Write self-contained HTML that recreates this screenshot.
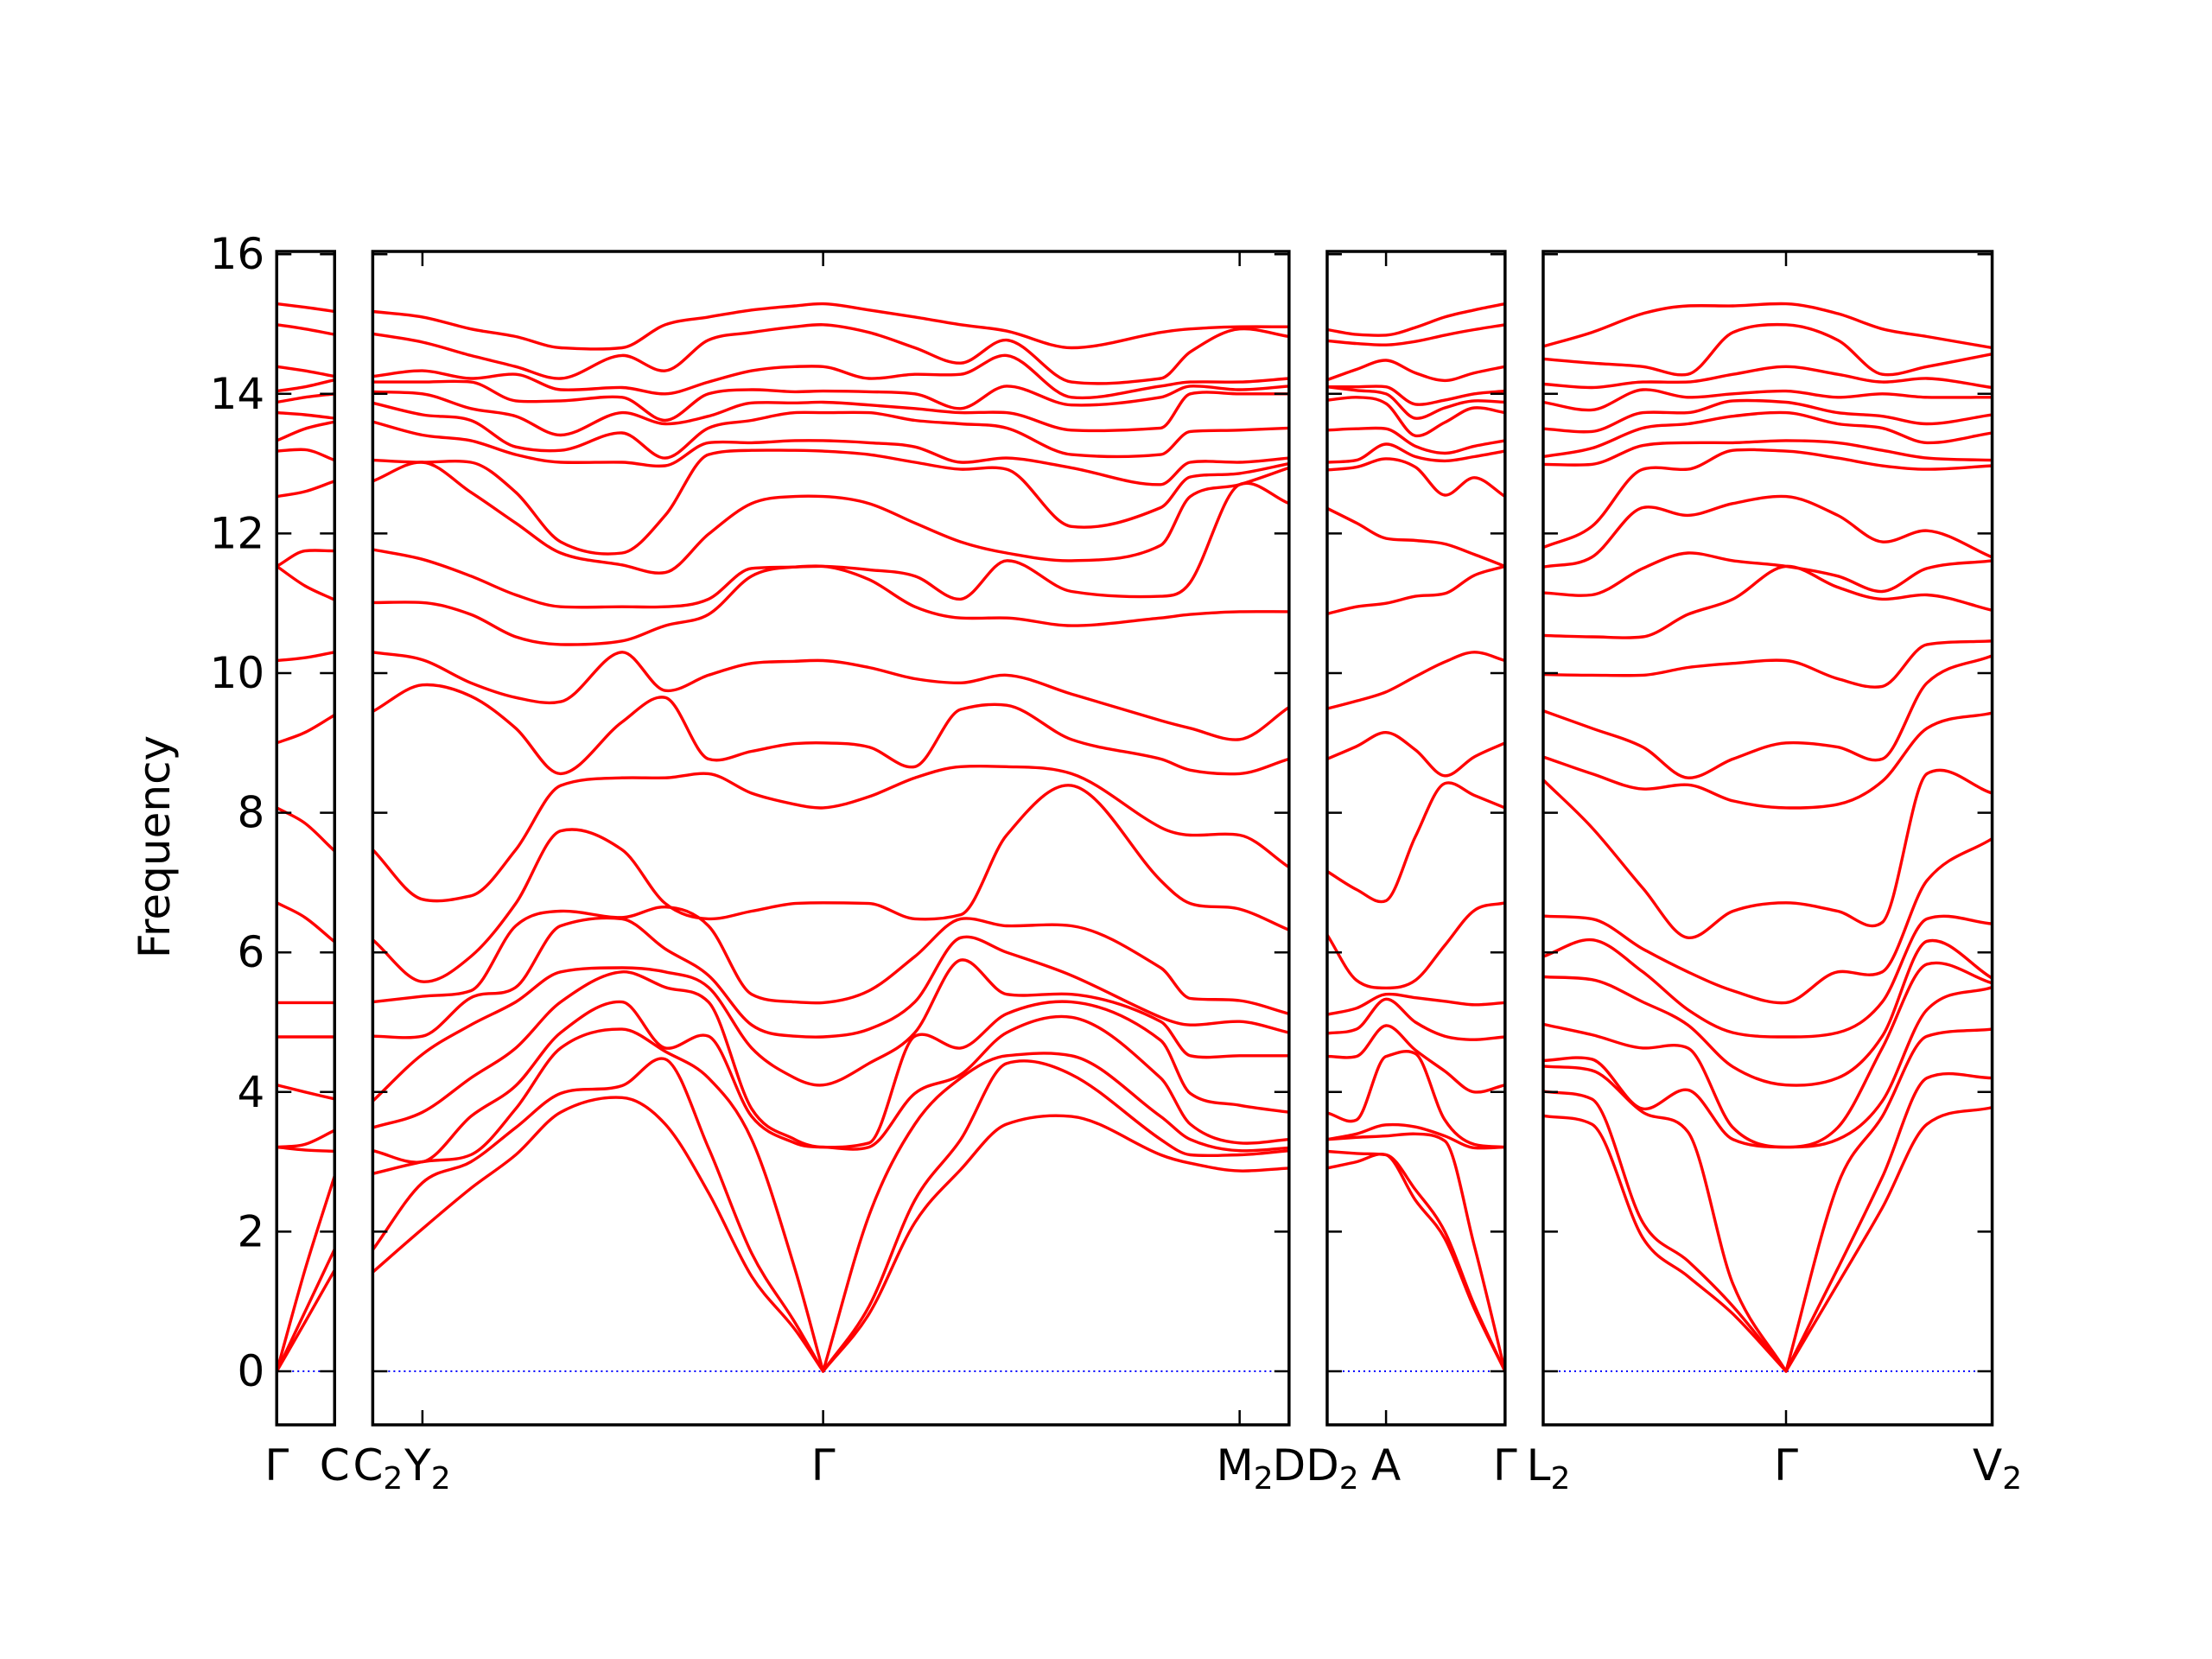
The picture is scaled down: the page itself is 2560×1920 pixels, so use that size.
<!DOCTYPE html>
<html><head><meta charset="utf-8"><style>
html,body{margin:0;padding:0;background:#fff;}
svg{display:block;font-family:"DejaVu Sans","Liberation Sans",sans-serif;}
</style></head><body>
<svg id="chart" width="2560" height="1920" viewBox="0 0 2560 1920" xmlns="http://www.w3.org/2000/svg">
<text x="0" y="0" transform="translate(196,980) rotate(-90)" font-size="50" text-anchor="middle">Frequency</text>
</svg>
<script>
// ---- data ----
const yTicks = [0,2,4,6,8,10,12,14,16];
const gammaCol = [0,0,0,3.21,3.21,4.1,4.79,5.28,6.71,8.07,9.0,10.18,11.53,11.53,12.53,13.18,13.33,13.73,13.88,14.04,14.39,14.99,15.29];
const p1K = [196,216,237];
const p1Cols = [
 gammaCol,
 [0.7,0.85,1.45,3.17,3.25,4.0,4.79,5.28,6.5,7.85,9.15,10.22,11.25,11.75,12.6,13.2,13.5,13.7,13.95,14.1,14.33,14.93,15.24],
 [1.45,1.75,2.8,3.15,3.45,3.9,4.79,5.28,6.15,7.45,9.4,10.3,11.05,11.75,12.75,13.05,13.6,13.65,14.0,14.2,14.25,14.85,15.18]
];
const p2K = [264,299.2,333.5,365.3,397.1,440.6,471.2,501.8,532.4,563,583,615.5,648,680.5,713,758.9,822.1,843,878,913];
const p2Cols = [
 [1.42,1.74,2.83,3.16,3.49,3.87,4.8,5.29,6.18,7.47,9.45,10.3,11.01,11.77,12.75,13.05,13.6,13.87,14.03,14.17,14.25,14.86,15.18],
 [2.04,2.7,3.0,3.0,3.71,4.54,4.8,5.37,5.58,6.76,9.83,10.19,11.01,11.63,13.02,13.02,13.41,13.7,14.0,14.17,14.33,14.74,15.1],
 [2.62,3.0,3.1,3.65,4.2,4.96,5.35,5.45,5.94,6.81,9.67,9.86,10.84,11.39,12.59,13.02,13.33,13.62,13.79,14.17,14.22,14.55,14.93],
 [3.1,3.49,3.76,4.09,4.63,5.29,5.5,6.38,6.7,7.47,9.21,9.65,10.52,11.12,12.15,12.59,13.13,13.24,13.68,13.9,14.28,14.39,14.82],
 [3.71,3.98,4.63,4.85,5.29,5.72,6.38,6.59,7.74,8.39,8.56,9.59,10.41,10.95,11.72,11.88,13.02,13.19,13.41,13.9,14.06,14.22,14.66],
 [3.92,4.09,4.9,5.29,5.72,5.78,6.48,6.5,7.47,8.5,9.3,10.3,10.46,10.95,11.55,11.72,13.02,13.44,13.73,13.95,14.09,14.55,14.66],
 [3.54,4.47,4.58,4.63,5.5,5.72,6.05,6.65,6.7,8.5,9.65,9.75,10.68,10.95,11.44,12.26,12.97,13.08,13.57,13.62,14.0,14.33,14.99],
 [2.56,3.2,4.2,4.8,5.29,5.5,5.67,6.38,6.48,8.56,8.77,9.97,10.84,11.06,11.99,13.13,13.3,13.51,13.68,14.0,14.17,14.77,15.1],
 [1.36,1.69,3.32,3.65,3.76,4.63,4.96,5.4,6.59,8.28,8.88,10.14,11.39,11.5,12.43,13.19,13.3,13.62,13.87,14.06,14.33,14.88,15.2],
 [0.6,0.7,1.47,3.27,3.32,4.2,4.8,5.29,6.7,8.12,8.99,10.17,11.52,11.52,12.53,13.19,13.33,13.73,13.87,14.03,14.39,14.96,15.26],
 gammaCol,
 [0.82,0.93,2.23,3.21,3.27,4.41,4.9,5.45,6.7,8.23,8.94,10.08,11.34,11.48,12.43,13.13,13.3,13.73,13.84,14.03,14.22,14.88,15.2],
 [2.13,2.45,3.54,3.98,4.8,4.85,5.29,5.94,6.48,8.5,8.66,9.92,10.95,11.39,12.15,13.02,13.24,13.62,13.79,14.0,14.28,14.66,15.1],
 [2.89,3.32,4.2,4.25,4.63,5.89,6.21,6.48,6.54,8.66,9.48,9.86,10.79,11.06,11.88,12.92,13.02,13.57,13.73,13.79,14.28,14.44,14.99],
 [3.54,4.41,4.52,4.85,5.12,5.4,6.0,6.38,7.68,8.66,9.54,9.97,10.79,11.61,11.72,12.92,13.08,13.51,13.73,14.11,14.55,14.77,14.9],
 [3.65,4.25,4.52,5.07,5.29,5.4,5.67,6.38,8.39,8.56,9.05,9.7,10.68,11.17,11.61,12.1,12.94,13.13,13.48,13.84,13.95,14.17,14.66],
 [3.1,3.32,3.65,4.2,4.74,5.01,5.07,5.78,7.03,7.79,8.77,9.32,10.79,11.1,11.83,12.37,12.7,13.13,13.51,13.95,14.11,14.22,14.88],
 [2.98,3.1,3.32,3.54,3.98,4.52,4.96,5.34,6.7,7.68,8.61,9.21,10.84,11.3,12.53,12.81,13.02,13.46,14.0,14.11,14.17,14.6,14.93],
 [2.87,3.1,3.16,3.27,3.81,4.52,5.01,5.31,6.62,7.68,8.56,9.05,10.88,12.7,12.7,12.86,13.02,13.48,14.0,14.06,14.17,14.93,14.96],
 [2.91,3.16,3.2,3.32,3.71,4.52,4.85,5.12,6.32,7.22,8.77,9.51,10.88,12.43,12.94,13.0,13.08,13.51,14.0,14.11,14.22,14.82,14.96]
];
const p3K = [940,960.8,981.7,1002.5,1023.3,1044.2,1066];
const p3Cols = [
 [2.91,3.15,3.32,3.32,3.7,4.51,4.84,5.11,6.25,7.16,8.77,9.49,10.85,12.36,12.91,13.02,13.48,13.91,14.1,14.1,14.2,14.76,14.92],
 [3.0,3.12,3.35,3.4,3.6,4.51,4.9,5.2,5.6,6.9,8.95,9.6,10.95,12.15,12.95,13.05,13.5,13.95,14.05,14.1,14.35,14.72,14.85],
 [3.1,3.1,3.37,3.53,4.51,4.95,5.33,5.4,5.49,6.74,9.15,9.73,11.0,11.93,13.07,13.28,13.5,13.86,14.0,14.1,14.48,14.7,14.84],
 [2.45,2.6,3.4,3.5,4.55,4.6,5.0,5.35,5.6,7.66,8.9,9.95,11.1,11.9,12.95,13.1,13.25,13.4,13.65,13.85,14.3,14.75,14.95],
 [1.9,2.0,3.3,3.37,3.6,4.3,4.8,5.3,6.1,8.42,8.53,10.16,11.14,11.85,12.55,13.04,13.15,13.59,13.8,13.91,14.19,14.84,15.1],
 [0.9,0.95,1.8,3.2,3.25,4.0,4.75,5.25,6.6,8.25,8.8,10.3,11.4,11.7,12.8,13.1,13.25,13.8,13.9,14.0,14.3,14.92,15.2],
 gammaCol
];
const p4K = [1093,1127.4,1163.6,1195.5,1227.4,1265,1301.6,1333.2,1364.9,1411];
const p4Cols = [
 [3.66,4.01,4.37,4.45,4.97,5.65,5.94,6.52,8.47,8.8,9.46,9.98,10.54,11.15,11.52,11.8,12.99,13.1,13.5,13.88,14.14,14.5,14.68],
 [3.54,3.9,4.31,4.47,4.82,5.61,6.18,6.48,7.79,8.56,9.21,9.97,10.52,11.12,11.66,12.1,12.99,13.22,13.46,13.77,14.09,14.44,14.88],
 [1.91,2.13,3.71,3.76,4.63,5.29,5.72,6.05,6.92,8.34,8.94,9.97,10.52,11.5,12.37,12.92,13.26,13.51,13.73,14.06,14.17,14.39,15.15],
 [1.36,1.58,3.43,4.03,4.63,4.96,5.18,5.72,6.21,8.4,8.5,10.08,10.84,11.72,12.26,12.92,13.3,13.57,13.73,13.95,14.17,14.28,15.26],
 [0.82,0.93,1.25,3.32,3.49,4.36,4.85,5.45,6.59,8.17,8.77,10.14,11.06,11.61,12.43,13.19,13.3,13.68,13.9,14.0,14.28,14.88,15.26],
 gammaCol,
 [1.25,1.47,2.67,3.32,3.49,4.2,4.85,5.72,6.59,8.12,8.94,9.92,11.23,11.39,12.26,13.08,13.3,13.57,13.73,13.95,14.28,14.77,15.15],
 [2.34,2.78,3.65,3.87,4.63,4.8,5.29,5.72,6.43,8.45,8.77,9.81,11.06,11.17,11.88,12.97,13.19,13.51,13.68,14.0,14.17,14.28,14.93],
 [3.54,4.2,4.8,5.18,5.83,6.16,6.48,7.03,8.56,9.21,9.86,10.41,11.12,11.5,12.04,12.92,13.08,13.3,13.57,13.95,14.22,14.39,14.82],
 [3.78,4.2,4.9,5.5,5.56,5.63,6.41,7.63,8.28,9.43,10.25,10.46,10.9,11.61,11.66,12.97,13.05,13.44,13.7,13.95,14.09,14.57,14.66]
];
const p1Ticks = [196,237]; const p2Ticks = [299.2,583,878]; const p3Ticks = [981.7]; const p4Ticks = [1265];

// ---- layout ----
const S = 1.634;
const Y0 = 1587, UNIT = 80.8, YTOP = 291, YBOT = 1649;
function yScale(f){ return Y0 - f*UNIT; }
function xScale(k){ return k*S; }
const NS = "http://www.w3.org/2000/svg";
const svg = document.getElementById('chart');
function mk(tag, attrs){ const e=document.createElementNS(NS,tag); for(const k in attrs) e.setAttribute(k,attrs[k]); svg.appendChild(e); return e; }

const panels = [
 {name:'panel-gamma-c', x0:196, x1:237, k:p1K, cols:p1Cols, ticks:p1Ticks},
 {name:'panel-c2-y2-gamma-m2-d', x0:264, x1:913, k:p2K, cols:p2Cols, ticks:p2Ticks},
 {name:'panel-d2-a-gamma', x0:940, x1:1066, k:p3K, cols:p3Cols, ticks:p3Ticks},
 {name:'panel-l2-gamma-v2', x0:1093, x1:1411, k:p4K, cols:p4Cols, ticks:p4Ticks}
];

function bandPath(xs, vs){
  const n=xs.length, d=[], m=new Array(n).fill(0);
  for(let i=0;i<n-1;i++) d.push((vs[i+1]-vs[i])/(xs[i+1]-xs[i]));
  m[0]=d[0]; m[n-1]=d[n-2];
  for(let i=1;i<n-1;i++){
    const c=(vs[i+1]-vs[i-1])/(xs[i+1]-xs[i-1]);
    const lim=3*Math.min(Math.abs(d[i-1]),Math.abs(d[i]));
    m[i] = (d[i-1]*d[i]<=0) ? c*0.5 : Math.sign(c)*Math.min(Math.abs(c),lim);
  }
  let p = 'M'+xScale(xs[0]).toFixed(1)+','+yScale(vs[0]).toFixed(1);
  for(let i=0;i<n-1;i++){
    const h=xs[i+1]-xs[i];
    let t0=m[i], t1=m[i+1];
    if(vs[i]===0) t0=d[i];
    if(vs[i+1]===0) t1=d[i];
    const c1x=xs[i]+h/3, c1v=vs[i]+t0*h/3, c2x=xs[i+1]-h/3, c2v=vs[i+1]-t1*h/3;
    p+=' C'+xScale(c1x).toFixed(1)+','+yScale(c1v).toFixed(1)+' '+xScale(c2x).toFixed(1)+','+yScale(c2v).toFixed(1)+' '+xScale(xs[i+1]).toFixed(1)+','+yScale(vs[i+1]).toFixed(1);
  }
  return p;
}

panels.forEach((p,pi)=>{
  const X0=xScale(p.x0), X1=xScale(p.x1);
  const z = mk('line',{x1:X0,x2:X1,y1:yScale(0),y2:yScale(0),stroke:'#0000ff','stroke-width':2,'stroke-dasharray':'2,4'});
  
  
  const sorted = p.cols.map(c=>c.slice().sort((a,b)=>a-b));
  const nb = sorted[0].length;
  for(let b=0;b<nb;b++){
    const vs = sorted.map(c=>c[b]);
    const path = mk('path',{d:bandPath(p.k, vs),fill:'none',stroke:'#ff0000','stroke-width':3.4,'stroke-linejoin':'round'});
    
    
  }
  yTicks.forEach(t=>{
    const y=yScale(t);
    const a=mk('line',{x1:X0,x2:X0+17,y1:y,y2:y,stroke:'#000','stroke-width':2.5});
    
    
    const b2=mk('line',{x1:X1-17,x2:X1,y1:y,y2:y,stroke:'#000','stroke-width':2.5});
    
    
    if(pi===0){
      const tx=mk('text',{x:X0-14,y:y+17,'font-size':50,'text-anchor':'end'});
      tx.textContent=String(t);
      
      
    }
  });
  p.ticks.forEach(k=>{
    const x=xScale(k);
    const a=mk('line',{x1:x,x2:x,y1:YBOT,y2:YBOT-17,stroke:'#000','stroke-width':2.5});
    
    
    const b2=mk('line',{x1:x,x2:x,y1:YTOP,y2:YTOP+17,stroke:'#000','stroke-width':2.5});
    
    
  });
  const r=mk('rect',{x:X0,y:YTOP,width:X1-X0,height:YBOT-YTOP,fill:'none',stroke:'#000','stroke-width':3.5});
  
  
});

const xLabels = [
 ['Γ','',196],['C','',237],['C','2',264],['Y','2',299.2],
 ['Γ','',583],['M','2',878],['D','',913],['D','2',940],
 ['A','',981.7],['Γ','',1066],['L','2',1093],['Γ','',1265],['V','2',1411]
];
xLabels.forEach(l=>{
  const t=mk('text',{x:xScale(l[2]) + (l[1]?6:0),y:1713,'font-size':50,'text-anchor':'middle'});
  
  
  t.appendChild(document.createTextNode(l[0]));
  if(l[1]){
    const s=document.createElementNS(NS,'tspan');
    s.setAttribute('font-size','36'); s.setAttribute('dy','10');
    s.textContent=l[1]; t.appendChild(s);
  }
});
</script>
</body></html>
